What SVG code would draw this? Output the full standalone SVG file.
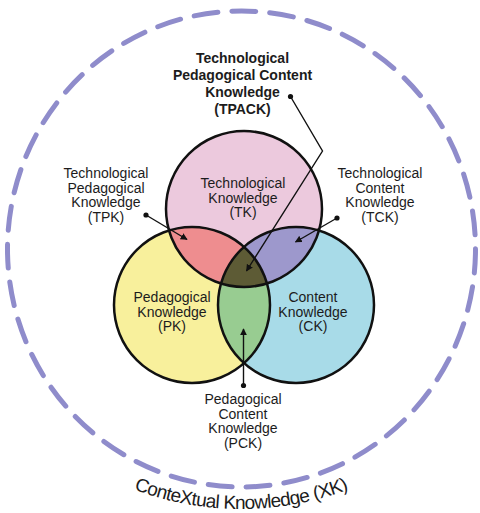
<svg xmlns="http://www.w3.org/2000/svg" width="480" height="513" viewBox="0 0 480 513">
<style>
text{font-family:"Liberation Sans",Arial,sans-serif;fill:#1c1c1c}
.lbl{font-size:14px;text-anchor:middle}
.ttl{font-size:14px;font-weight:bold;text-anchor:middle}
.ring{fill:none;stroke:#111;stroke-width:2.5}
.con{fill:none;stroke:#111;stroke-width:1.4}
.dot{fill:#111}
</style>
<defs>
<marker id="ah" viewBox="0 0 10 10" refX="9" refY="5" markerWidth="7" markerHeight="7" markerUnits="userSpaceOnUse" orient="auto">
<path d="M0,0 L10,5 L0,10 z" fill="#111"/>
</marker>
<clipPath id="cT"><circle cx="244" cy="209" r="78"/></clipPath>
<clipPath id="cP"><circle cx="192" cy="305" r="78"/></clipPath>
<path id="arc" d="M -64,204 A 305 305 0 0 0 546,204"/>
</defs>
<rect width="480" height="513" fill="#fff"/>
<g id="context">
<ellipse cx="241.5" cy="249" rx="234" ry="238" fill="none" stroke="#8f8ccb" stroke-width="5" stroke-dasharray="24 14" stroke-linecap="round"/>
<text style="font-size:19px;letter-spacing:-0.7px"><textPath href="#arc" startOffset="50%" text-anchor="middle">ConteXtual Knowledge (XK)</textPath></text>
</g>
<g id="TK"><circle cx="244" cy="209" r="78" fill="#ecc9dd"/></g>
<g id="PK"><circle cx="192" cy="305" r="78" fill="#f8f09c"/></g>
<g id="CK"><circle cx="296" cy="305" r="78" fill="#a8dbe8"/></g>
<g id="TPK"><circle cx="192" cy="305" r="78" fill="#ee8d8f" clip-path="url(#cT)"/></g>
<g id="TCK"><circle cx="296" cy="305" r="78" fill="#9d98cc" clip-path="url(#cT)"/></g>
<g id="PCK"><circle cx="296" cy="305" r="78" fill="#98cc91" clip-path="url(#cP)"/></g>
<g id="TPACK"><g clip-path="url(#cT)"><circle cx="296" cy="305" r="78" fill="#5d5b35" clip-path="url(#cP)"/></g></g>
<g id="rings">
<circle class="ring" cx="244" cy="209" r="78"/>
<circle class="ring" cx="192" cy="305" r="78"/>
<circle class="ring" cx="296" cy="305" r="78"/>
</g>
<g id="labels">
<text class="lbl" x="243" y="188">Technological<tspan x="243" dy="14.5">Knowledge</tspan><tspan x="243" dy="14.5">(TK)</tspan></text>
<text class="lbl" x="172" y="302">Pedagogical<tspan x="172" dy="14.5">Knowledge</tspan><tspan x="172" dy="14.5">(PK)</tspan></text>
<text class="lbl" x="313" y="302">Content<tspan x="313" dy="14.5">Knowledge</tspan><tspan x="313" dy="14.5">(CK)</tspan></text>
<text class="ttl" x="242.5" y="63">Technological<tspan x="242.5" dy="17">Pedagogical Content</tspan><tspan x="242.5" dy="17">Knowledge</tspan><tspan x="242.5" dy="17">(TPACK)</tspan></text>
<text class="lbl" x="106" y="178">Technological<tspan x="106" dy="14.5">Pedagogical</tspan><tspan x="106" dy="14.5">Knowledge</tspan><tspan x="106" dy="14.5">(TPK)</tspan></text>
<text class="lbl" x="380" y="178">Technological<tspan x="380" dy="14.5">Content</tspan><tspan x="380" dy="14.5">Knowledge</tspan><tspan x="380" dy="14.5">(TCK)</tspan></text>
<text class="lbl" x="243" y="404">Pedagogical<tspan x="243" dy="14.5">Content</tspan><tspan x="243" dy="14.5">Knowledge</tspan><tspan x="243" dy="14.5">(PCK)</tspan></text>
</g>
<g id="connectors">
<polyline class="con" points="290.5,96.5 322.5,151 246.5,271" marker-end="url(#ah)"/>
<line class="con" x1="146" y1="215" x2="187" y2="239.5" marker-end="url(#ah)"/>
<line class="con" x1="337" y1="218" x2="295.5" y2="242" marker-end="url(#ah)"/>
<line class="con" x1="243.5" y1="385.5" x2="243.5" y2="329" marker-end="url(#ah)"/>
<circle class="dot" cx="290.5" cy="96.5" r="2.6"/>
<circle class="dot" cx="146" cy="215" r="2.6"/>
<circle class="dot" cx="337" cy="218" r="2.6"/>
<circle class="dot" cx="243.5" cy="385.5" r="2.6"/>
</g>
</svg>
